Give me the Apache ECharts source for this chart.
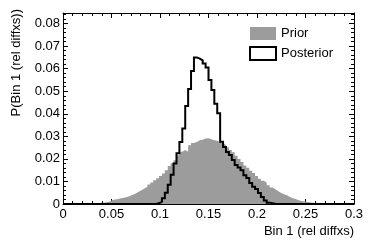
<!DOCTYPE html>
<html><head><meta charset="utf-8">
<script src="https://cdn.jsdelivr.net/npm/echarts@6/dist/echarts.min.js"></script>
<style>html,body{margin:0;padding:0;background:#fff}#c{width:374px;height:241px}</style>
</head><body><div id="c"></div>
<script>
// Histogram definition: 100 bins from 0 to 0.3
const xMin = 0, xMax = 0.3, nBins = 100;
const seriesNames = ['Prior', 'Posterior'];
const xTickLabels = ['0', '0.05', '0.1', '0.15', '0.2', '0.25', '0.3'];
const yTickLabels = ['0', '0.01', '0.02', '0.03', '0.04', '0.05', '0.06', '0.07', '0.08'];
const xTitle = 'Bin 1 (rel diffxs)';
const yTitle = 'P(Bin 1 (rel diffxs))';

// Prior bin contents (bins 0..99)
const prior = [
  0, 0, 0, 0, 0, 0, 0.0001, 0.0001, 0.0001, 0.0003,
  0.0003, 0.0003, 0.0004, 0.0006, 0.0008, 0.001, 0.0018, 0.002, 0.0022, 0.0025,
  0.0028, 0.0031, 0.0036, 0.0041, 0.0047, 0.0054, 0.0061, 0.0069, 0.0077, 0.0086,
  0.0095, 0.0105, 0.0114, 0.0124, 0.0135, 0.015, 0.0168, 0.0181, 0.0194, 0.0216,
  0.0232, 0.0239, 0.0232, 0.026, 0.027, 0.0275, 0.0283, 0.0285, 0.029, 0.0292,
  0.0287, 0.0283, 0.028, 0.0275, 0.027, 0.0262, 0.0252, 0.024, 0.0229, 0.0214,
  0.02, 0.0186, 0.0171, 0.0161, 0.0148, 0.0137, 0.0124, 0.0112, 0.0103, 0.0095,
  0.0083, 0.0073, 0.0065, 0.0057, 0.0049, 0.0043, 0.0039, 0.0031, 0.0026, 0.0022,
  0.0017, 0.0013, 0.0011, 0.0009, 0.0007, 0.0006, 0.0005, 0.0004, 0.0003, 0.0003,
  0.0002, 0.0001, 0.0001, 0.0001, 0.0001, 0, 0, 0, 0, 0
];
// Posterior bin contents (bins 0..99)
const posterior = [
  0, 0, 0, 0, 0, 0, 0, 0, 0, 0,
  0, 0, 0, 0, 0, 0, 0, 0, 0, 0,
  0, 0, 0, 0, 0, 0, 0, 0, 0, 0,
  0, 0, 0.0003, 0.001, 0.0025, 0.005, 0.0085, 0.013, 0.018, 0.0225,
  0.0275, 0.0335, 0.0435, 0.051, 0.059, 0.065, 0.0645, 0.0637, 0.0623, 0.0605,
  0.055, 0.0505, 0.0445, 0.0402, 0.0276, 0.0253, 0.0231, 0.0217, 0.0195, 0.0173,
  0.0162, 0.015, 0.0128, 0.0115, 0.0093, 0.0076, 0.0066, 0.0049, 0.0031, 0.0015,
  0.0006, 0.0003, 0.0001, 0, 0, 0, 0, 0, 0, 0,
  0, 0, 0, 0, 0, 0, 0, 0, 0, 0,
  0, 0, 0, 0, 0, 0, 0, 0, 0, 0
];

const yMax = 0.0847;
const binW = (xMax - xMin) / nBins;
function stepData(vals) {
  const pts = vals.map((v, i) => [xMin + i * binW, v]);
  pts.push([xMax, vals[vals.length - 1]]);
  return pts;
}
const FONT = 'Liberation Sans';
const chart = echarts.init(document.getElementById('c'), null, {renderer: 'canvas'});
const axisCommon = {
  axisLine: {show: true, onZero: false, lineStyle: {color: '#000', width: 1}},
  axisTick: {show: true, inside: true, length: 5, lineStyle: {color: '#000'}},
  minorTick: {show: true, splitNumber: 5, length: 3, lineStyle: {color: '#000'}},
  splitLine: {show: false},
  minorSplitLine: {show: false}
};
chart.setOption({
  animation: false,
  backgroundColor: '#fff',
  grid: {left: 63, right: 20, top: 13, bottom: 37, containLabel: false},
  legend: {
    orient: 'vertical', left: 249, top: 27, itemWidth: 26, itemHeight: 13, itemGap: 6,
    padding: 0,
    textStyle: {fontFamily: FONT, fontSize: 13, color: '#000'},
    data: [
      {name: seriesNames[0], icon: 'rect', itemStyle: {color: '#9c9c9c', borderWidth: 0}},
      {name: seriesNames[1], icon: 'rect', itemStyle: {color: '#fff', borderColor: '#000', borderWidth: 2}}
    ]
  },
  xAxis: [
    Object.assign({
      type: 'value', min: xMin, max: xMax, interval: 0.05, position: 'bottom',
      axisLabel: {margin: 4, fontFamily: FONT, fontSize: 13, color: '#000',
        formatter: v => { const k = Math.round(v / 0.05); return Math.abs(v - k * 0.05) < 1e-9 ? xTickLabels[k] : ''; }}
    }, axisCommon),
    Object.assign({
      type: 'value', min: xMin, max: xMax, interval: 0.05, position: 'top',
      axisLabel: {show: false}
    }, axisCommon)
  ],
  yAxis: [
    Object.assign({
      type: 'value', min: 0, max: yMax, interval: 0.01, position: 'left',
      axisLabel: {margin: 3, fontFamily: FONT, fontSize: 13, color: '#000',
        formatter: v => { const k = Math.round(v / 0.01); return Math.abs(v - k * 0.01) < 1e-9 ? yTickLabels[k] : ''; }}
    }, axisCommon),
    Object.assign({
      type: 'value', min: 0, max: yMax, interval: 0.01, position: 'right',
      axisLabel: {show: false}
    }, axisCommon)
  ],
  graphic: [
    {type: 'text', right: 20, top: 225, style: {text: xTitle, font: '13px "Liberation Sans"', fill: '#000'}},
    {type: 'text', x: 10, y: 9, rotation: Math.PI / 2,
      style: {text: yTitle, font: '13px "Liberation Sans"', fill: '#000', align: 'right', verticalAlign: 'top'}}
  ],
  series: [
    {
      name: seriesNames[0], type: 'line', step: 'end', xAxisIndex: 0, yAxisIndex: 0,
      data: stepData(prior), symbol: 'none', z: 2,
      itemStyle: {color: '#9c9c9c'},
      lineStyle: {width: 0, color: '#9c9c9c'},
      areaStyle: {color: '#9c9c9c', opacity: 1}
    },
    {
      name: seriesNames[1], type: 'line', step: 'end', xAxisIndex: 0, yAxisIndex: 0,
      data: stepData(posterior), symbol: 'none', z: 3,
      itemStyle: {color: '#000'},
      lineStyle: {width: 2, color: '#000', join: 'miter'}
    }
  ]
});
</script></body></html>
